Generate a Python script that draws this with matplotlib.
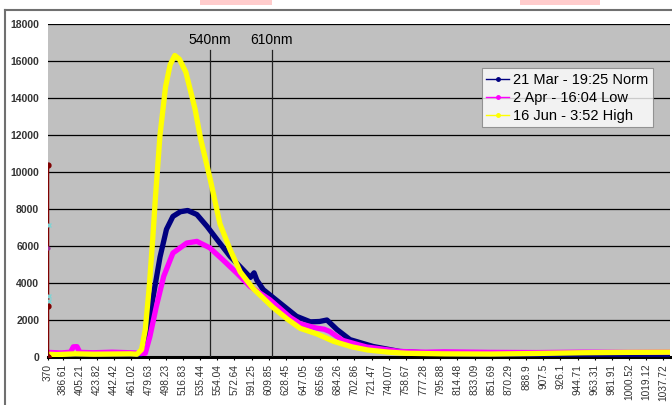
import matplotlib
matplotlib.use("Agg")
import matplotlib.pyplot as plt
from matplotlib.lines import Line2D
from matplotlib.patches import Rectangle

plt.rcParams['font.family'] = ['Liberation Sans', 'DejaVu Sans']

###
# DATA
###
tick_labels = ["370", "386.61", "405.21", "423.82", "442.42", "461.02", "479.63",
               "498.23", "516.83", "535.44", "554.04", "572.64", "591.25", "609.85",
               "628.45", "647.05", "665.66", "684.26", "702.86", "721.47", "740.07",
               "758.67", "777.28", "795.88", "814.48", "833.09", "851.69", "870.29",
               "888.9", "907.5", "926.1", "944.71", "963.31", "981.91", "1000.52",
               "1019.12", "1037.72"]
tick_pos = [float(t) for t in tick_labels]

norm_wl = [370, 420, 460, 470, 474, 479, 484, 492, 499, 506, 514, 522, 532, 543,
           554, 568, 582, 590, 594, 597, 604, 622, 640, 655, 665, 673, 684, 698,
           723, 752, 780, 820, 900, 1045]
norm_val = [100, 100, 100, 120, 230, 1480, 3100, 5400, 6900, 7600, 7850, 7920, 7700, 7060,
            6340, 5440, 4720, 4300, 4550, 4150, 3640, 2920, 2200, 1900, 1920, 2000, 1480, 940,
            570, 300, 220, 150, 120, 120]

low_wl = [370, 385, 395, 398, 402, 405, 420, 440, 460, 472, 476, 481, 488, 496, 506,
          521, 532, 546, 560, 575, 590, 611, 633, 644, 655, 661, 670, 676, 690, 716,
          752, 780, 800, 850, 900, 950, 1000, 1045]
low_val = [250, 220, 260, 550, 560, 250, 230, 260, 230, 200, 200, 1100, 2730, 4360, 5620,
           6160, 6250, 5900, 5260, 4550, 3800, 3100, 2150, 1800, 1650, 1570, 1500, 1380, 900, 540,
           300, 260, 280, 250, 240, 260, 250, 260]

high_wl = [370, 380, 400, 420, 440, 460, 467, 472, 476, 480, 484, 487, 492, 498, 503,
           508, 513, 520, 530, 536, 546, 557, 568, 579, 593, 614, 630, 644, 662, 680,
           700, 717, 740, 760, 800, 850, 900, 950, 1000, 1045]
high_val = [150, 130, 170, 150, 160, 170, 150, 400, 1480, 3600, 6300, 8600, 12000, 14600, 15800,
            16300, 16100, 15400, 13400, 11800, 9700, 7200, 5800, 4600, 3700, 2700, 2050, 1550, 1250, 850,
            550, 380, 260, 200, 170, 160, 190, 230, 250, 260]

# stray series at the first category
spike_wl = [371, 371, 371, 371]
spike_val = [0, 10400, 2750, 0]
cyan_wl = [372, 372, 372]
cyan_val = [7150, 3300, 3050]

series_names = ["21 Mar - 19:25 Norm", "2 Apr - 16:04 Low", "16 Jun - 3:52 High"]
series_colors = ["#000080", "#FF00FF", "#FFFF00"]

###
# FIGURE
###
fig = plt.figure(figsize=(6.72, 4.05), dpi=100)
fig.patch.set_facecolor("white")
ax = fig.add_axes([47.5 / 672, 1 - 357 / 405, 622.5 / 672, 333 / 405])
ax.set_facecolor("#C0C0C0")

ax.set_xlim(370, 1045)
ax.set_ylim(0, 18000)
ax.set_yticks(range(0, 18001, 2000))
ax.yaxis.grid(True, color="black", linewidth=0.9)
ax.set_axisbelow(True)

ax.set_xticks(tick_pos)
ax.set_xticklabels(tick_labels, rotation=90, fontsize=7.3, color="#333333")
ax.tick_params(axis="x", length=2, pad=3)
ax.tick_params(axis="y", length=0, pad=6)
for lab in ax.get_yticklabels():
    lab.set_fontsize(7.5)
    lab.set_fontweight("bold")
    lab.set_color("#333333")

for s in ["top", "right", "left"]:
    ax.spines[s].set_visible(False)
ax.spines["bottom"].set_linewidth(2.2)
ax.spines["bottom"].set_color("black")
ax.spines["bottom"].set_zorder(1.5)

# measurement series
for wl, val, col in zip([norm_wl, low_wl, high_wl], [norm_val, low_val, high_val], series_colors):
    ax.plot(wl, val, color=col, linewidth=3.8, solid_joinstyle="round", zorder=3)

ax.plot(spike_wl, spike_val, color="#800000", linewidth=1.6, marker="o", markersize=3.5, zorder=4)
ax.plot(cyan_wl, cyan_val, linestyle="none", marker="x", markersize=3, color="#7FD4D4", zorder=4)
ax.plot([371], [5900], linestyle="none", marker="o", markersize=2, color="#993399", zorder=4)

# reference wavelength markers
for xpos, txt in [(546.2, "540nm"), (613.4, "610nm")]:
    ax.plot([xpos, xpos], [0, 16600], color="#222222", linewidth=0.9, zorder=2)
    ax.text(xpos, 17150, txt, ha="center", va="center", fontsize=10, color="black")

handles = [Line2D([], [], color=c, linewidth=1, marker="o", markersize=2.5) for c in series_colors]
leg = ax.legend(handles, series_names, loc="upper right", bbox_to_anchor=(0.972, 0.867),
                borderaxespad=0, fontsize=10.5, frameon=True, fancybox=False,
                handlelength=1.6, handletextpad=0.25, labelspacing=0.28, borderpad=0.3)
leg.get_frame().set_edgecolor("#808080")
leg.get_frame().set_linewidth(0.8)

# chart frame and page bits at the top
fig.add_artist(Line2D([5 / 672, 1], [1 - 9.5 / 405, 1 - 9.5 / 405], color="#707070", linewidth=1.5))
fig.add_artist(Line2D([5 / 672, 5 / 672], [0, 1 - 9.5 / 405], color="#707070", linewidth=1.5))
for x0, x1 in [(200, 272), (520, 600)]:
    fig.add_artist(Rectangle((x0 / 672, 1 - 5 / 405), (x1 - x0) / 672, 5 / 405,
                             transform=fig.transFigure, color="#FFCCCC", linewidth=0))

fig.savefig("out.png", dpi=100)
